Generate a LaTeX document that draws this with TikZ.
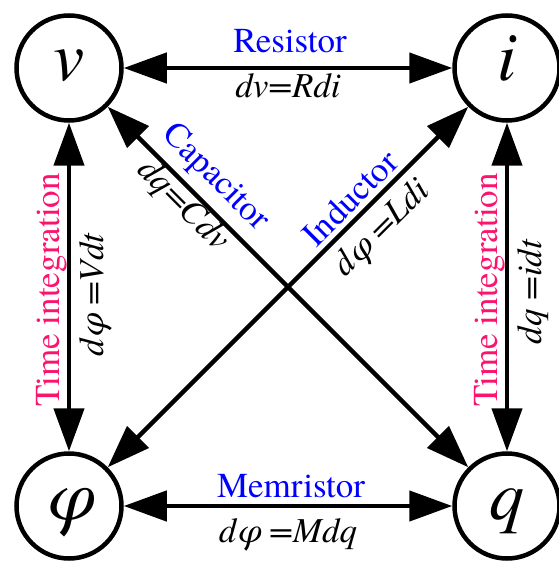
\documentclass[tikz,border=0pt]{standalone}
\usepackage{fontspec}
\setmainfont{texgyretermes-regular.otf}[ItalicFont=texgyretermes-italic.otf]
\newfontfamily\tnr{texgyretermes-regular.otf}[ItalicFont=texgyretermes-italic.otf]
\usetikzlibrary{arrows.meta}
\definecolor{lblblue}{RGB}{0,0,255}
\definecolor{tipink}{RGB}{250,20,110}
\begin{document}
\begin{tikzpicture}[x=1pt,y=-1pt,
  var/.style={circle,draw,line width=4.5pt,minimum size=105pt,inner sep=0pt,
    text height=40pt,text depth=14pt,font=\tnr\fontsize{70}{70}\selectfont\itshape},
  link/.style={line width=4.5pt,{Triangle[length=43pt,width=30pt]}-{Triangle[length=43pt,width=30pt]}},
  lab/.style={font=\tnr\fontsize{35}{35}\selectfont,text=lblblue,inner sep=0pt},
  eq/.style={font=\tnr\fontsize{35}{35}\selectfont\itshape,inner sep=0pt},
  ti/.style={font=\tnr\fontsize{35}{35}\selectfont,text=tipink,inner sep=0pt}]
\useasboundingbox (0,0) rectangle (558,561);
\node[var] (v) at (69,68) {v};
\node[var] (i) at (507,68) {i};
\node[var] (p) at (69,506) {φ};
\node[var] (q) at (507,506) {q};
\draw[link] (v) -- (i);
\draw[link] (p) -- (q);
\draw[link] (v) -- (p);
\draw[link] (i) -- (q);
\draw[link] (v) -- (q);
\draw[link] (i) -- (p);
\node[lab,anchor=base] (lr) at (290,53) {Resistor};
\node[eq,anchor=base] (er) at (288,98) {dv=Rdi};
\node[lab,anchor=base] (lm) at (291,497) {Memristor};
\node[eq,anchor=base] (em) at (288,542) {dφ =Mdq};
\node[ti,anchor=base,rotate=90] (tl) at (59,290) {Time integration};
\node[eq,anchor=base,rotate=90] (el) at (103,295) {dφ =Vdt};
\node[ti,anchor=base,rotate=90] (tr) at (497,290) {Time integration};
\node[eq,anchor=base,rotate=90] (eqr) at (541,292) {dq =idt};
\node[lab,rotate=-45] (lc) at (215,178) {Capacitor};
\node[eq,rotate=-45] (ec) at (183,206) {dq=Cdv};
\node[lab,rotate=45] (li) at (350,198) {Inductor};
\node[eq,rotate=45] (ei) at (383,230) {dφ =Ldi};
\end{tikzpicture}
\end{document}
